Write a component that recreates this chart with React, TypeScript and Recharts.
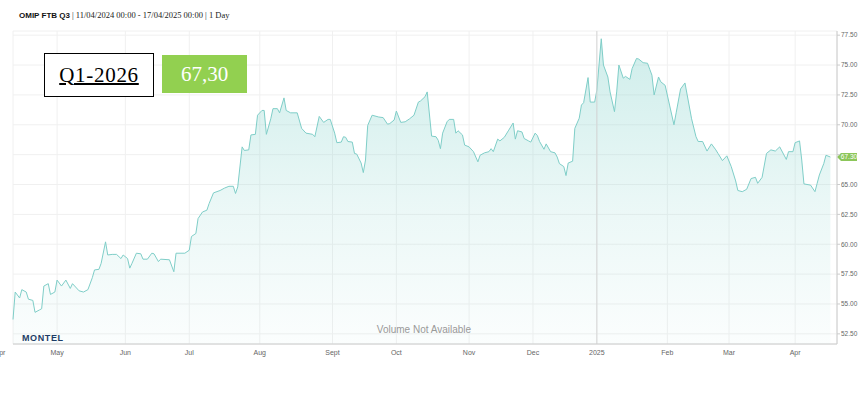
import React from 'react';
import { AreaChart, Area, XAxis, YAxis, CartesianGrid, ReferenceLine } from 'recharts';

// calendar days since 11/04/2024 (first session) and settlement prices (EUR/MWh)
const dayOffsets = [
  0, 1, 3, 4, 6, 7, 9, 10, 12, 13, 14, 16, 17, 19, 20, 22, 24, 26, 27, 30,
  32, 34, 36, 37, 39, 40, 42, 43, 45, 47, 49, 50, 52, 53, 54, 56, 58, 59, 61, 63,
  64, 66, 67, 71, 73, 74, 78, 80, 81, 83, 84, 86, 88, 89, 91, 94, 96, 98, 100, 101,
  102, 104, 105, 107, 108, 110, 111, 113, 114, 115, 117, 118, 120, 121, 123, 124, 126, 129, 131, 133,
  136, 137, 139, 141, 143, 144, 146, 147, 149, 150, 151, 152, 154, 155, 156, 158, 159, 160, 161, 163,
  166, 168, 170, 171, 173, 174, 176, 178, 180, 182, 184, 185, 187, 188, 190, 192, 193, 194, 195, 197,
  198, 200, 201, 202, 204, 205, 207, 209, 211, 212, 214, 216, 217, 218, 220, 221, 223, 225, 227, 228,
  229, 231, 232, 234, 235, 237, 238, 239, 241, 242, 244, 246, 247, 248, 250, 251, 252, 254, 255, 257,
  258, 259, 261, 262, 264, 265, 267, 268, 270, 271, 273, 274, 275, 277, 278, 280, 281, 283, 284, 286,
  288, 289, 290, 291, 293, 294, 296, 298, 300, 301, 303, 305, 306, 308, 310, 311, 313, 315, 317, 319,
  320, 322, 324, 326, 328, 329, 331, 333, 335, 337, 338, 340, 342, 344, 346, 348, 351, 352, 354, 355,
  357, 358, 359, 362, 364, 365, 366, 368, 369, 371,
];
const prices = [
  53.7, 56.0, 55.5, 56.2, 56.0, 55.4, 55.3, 54.3, 54.5, 54.6, 56.5, 56.7, 55.8, 56.0, 57.0, 56.5, 57.0, 56.3, 56.7, 56.1,
  56.0, 56.2, 57.2, 57.85, 57.9, 58.4, 60.2, 59.1, 59.15, 59.15, 58.8, 59.1, 58.8, 58.0, 58.4, 59.25, 59.2, 58.75, 58.75, 59.25,
  59.2, 58.55, 58.75, 58.7, 57.7, 59.25, 59.25, 59.5, 60.65, 60.9, 62.15, 62.7, 62.85, 63.4, 64.3, 64.5, 64.7, 64.85, 64.85, 64.25,
  64.8, 68.15, 67.85, 67.9, 69.15, 69.2, 70.8, 71.2, 71.2, 69.2, 70.5, 71.35, 71.35, 71.0, 72.25, 71.2, 71.0, 71.0, 69.7, 69.3,
  69.2, 69.0, 70.7, 70.2, 70.45, 70.45, 69.3, 68.5, 68.55, 69.0, 68.95, 68.6, 68.55, 67.6, 67.55, 66.8, 66.0, 67.05, 69.95, 70.8,
  70.65, 70.6, 70.05, 70.1, 70.4, 71.15, 70.2, 70.25, 70.5, 70.8, 71.9, 72.0, 72.35, 72.75, 69.05, 69.0, 68.7, 68.0, 69.3, 70.25,
  70.45, 70.45, 69.3, 69.5, 69.15, 68.3, 68.15, 67.75, 66.9, 67.45, 67.65, 67.75, 68.0, 67.75, 68.8, 68.65, 68.95, 69.55, 70.15, 68.8,
  69.5, 69.4, 68.85, 68.65, 68.55, 69.3, 69.1, 68.6, 67.95, 68.4, 67.75, 67.65, 67.3, 66.75, 66.5, 65.75, 66.8, 66.95, 69.7, 70.55,
  71.65, 71.85, 73.95, 71.9, 71.9, 72.9, 77.2, 75.0, 74.0, 72.75, 71.1, 72.75, 75.0, 73.9, 74.05, 73.8, 74.7, 75.55, 75.5, 75.2,
  75.15, 74.65, 74.15, 72.5, 74.0, 73.6, 73.3, 71.65, 70.0, 71.0, 73.0, 73.5, 72.5, 70.5, 69.0, 68.6, 68.6, 67.8, 68.4, 67.9,
  67.6, 67.0, 67.4, 66.5, 65.3, 64.5, 64.4, 64.6, 65.5, 65.6, 65.1, 65.6, 67.6, 67.9, 67.8, 68.15, 67.1, 67.75, 67.75, 68.5,
  68.65, 67.05, 65.05, 64.95, 64.4, 65.1, 65.8, 66.75, 67.45, 67.3,
];

const yTicks = [52.5, 55, 57.5, 60, 62.5, 65, 67.5, 70, 72.5, 75, 77.5];
const monthTickDays = [0, 20, 51, 80, 112, 145, 174, 207, 236, 265, 297, 325, 355];
const monthTickLabels = ['Apr', 'May', 'Jun', 'Jul', 'Aug', 'Sept', 'Oct', 'Nov', 'Dec', '2025', 'Feb', 'Mar', 'Apr'];
const yearStartDay = 265;

const productName = 'OMIP FTB Q3';
const periodText = '| 11/04/2024 00:00 - 17/04/2025 00:00 | 1 Day';
const contractName = 'Q1-2026';
const lastPriceText = '67,30';

const data = dayOffsets.map((day, i) => ({ day, price: prices[i] }));
const lastPrice = prices[prices.length - 1];

const sans = '"Liberation Sans", Arial, sans-serif';
const serif = '"Liberation Serif", "Times New Roman", serif';

const MonthTick = (props: any) => {
  const { x, y, payload } = props;
  const i = monthTickDays.indexOf(payload.value);
  // the first label sits before the plot start and is cut by the page edge
  const shift = i === 0 ? -13 : 0;
  return (
    <text x={x + shift} y={y} dy={8.5} textAnchor="middle" fontSize={7} fill="#666" fontFamily={sans}>
      {monthTickLabels[i]}
    </text>
  );
};

// the last-price flag covers the axis label it sits on, as in the original
const PriceTick = (props: any) => {
  const { x, y, payload } = props;
  if (Math.abs(payload.value - lastPrice) < 0.6) return <g />;
  return (
    <text x={x} y={y} dy={2.3} textAnchor="start" fontSize={6.5} fill="#666" fontFamily={sans}>
      {Number(payload.value).toFixed(2)}
    </text>
  );
};

const PriceTag = (props: any) => {
  const vb = props.viewBox || {};
  const x = vb.x + vb.width;
  const y = vb.y;
  return (
    <g>
      <path
        d={`M${x},${y} L${x + 4},${y - 4} L${x + 20},${y - 4} L${x + 20},${y + 4} L${x + 4},${y + 4} Z`}
        fill="#8cc65a"
      />
      <text x={x + 12} y={y} dy={2.3} textAnchor="middle" fontSize={6.5} fill="#fff" fontFamily={sans}>
        {lastPrice.toFixed(2)}
      </text>
    </g>
  );
};

export default function App() {
  return (
    <div style={{ position: 'absolute', left: 0, top: 0, width: 866, height: 393, background: '#fff' }}>
      <div style={{ position: 'absolute', left: 19, top: 10, fontSize: 8, lineHeight: '10px', whiteSpace: 'nowrap' }}>
        <span style={{ fontFamily: sans, fontWeight: 'bold', color: '#111' }}>{productName}</span>{' '}
        <span style={{ fontFamily: serif, fontSize: 8.5, color: '#222' }}>{periodText}</span>
      </div>

      <AreaChart width={866} height={393} data={data} margin={{ top: 31, left: 13, right: 0, bottom: 29 }}>
        <defs>
          <linearGradient id="priceFill" x1="0" y1="0" x2="0" y2="1">
            <stop offset="0%" stopColor="#8fd6d0" stopOpacity={0.72} />
            <stop offset="55%" stopColor="#8fd6d0" stopOpacity={0.3} />
            <stop offset="100%" stopColor="#8fd6d0" stopOpacity={0.06} />
          </linearGradient>
        </defs>
        <CartesianGrid stroke="#f0f0f0" />
        <XAxis
          dataKey="day"
          type="number"
          domain={[0, 374]}
          ticks={monthTickDays}
          interval={0}
          height={20}
          tickSize={0}
          tickMargin={2}
          axisLine={{ stroke: '#ccc' }}
          tickLine={false}
          tick={<MonthTick />}
        />
        <YAxis
          orientation="right"
          type="number"
          domain={[51.65, 77.85]}
          ticks={yTicks}
          width={29}
          interval={0}
          tickSize={3}
          tickMargin={1}
          axisLine={{ stroke: '#ccc' }}
          tickLine={{ stroke: '#ccc' }}
          tick={<PriceTick />}
        />
        <ReferenceLine x={yearStartDay} stroke="#d6d6d6" strokeWidth={1} />
        <Area
          type="linear"
          dataKey="price"
          stroke="#7fcec8"
          strokeWidth={1}
          fill="url(#priceFill)"
          dot={false}
          activeDot={false}
          isAnimationActive={false}
        />
        <ReferenceLine y={lastPrice} stroke="none" strokeOpacity={0} label={<PriceTag />} />
      </AreaChart>

      <div
        style={{
          position: 'absolute', left: 44, top: 53, width: 110, height: 44, boxSizing: 'border-box',
          border: '1.3px solid #000', background: '#fff', display: 'flex', alignItems: 'center',
          justifyContent: 'center', fontFamily: serif, fontSize: 21, letterSpacing: 0.7, color: '#000',
          textDecoration: 'underline', textUnderlineOffset: 1,
        }}
      >
        {contractName}
      </div>
      <div
        style={{
          position: 'absolute', left: 162, top: 55, width: 85, height: 38, background: '#92d050',
          display: 'flex', alignItems: 'center', justifyContent: 'center', fontFamily: serif,
          fontSize: 21, color: '#fff',
        }}
      >
        {lastPriceText}
      </div>

      <div
        style={{
          position: 'absolute', left: 22, top: 333, fontFamily: sans, fontWeight: 900, fontSize: 9,
          letterSpacing: 0.6, color: '#1d3c66', lineHeight: '10px',
        }}
      >
        MONTEL
      </div>
      <div
        style={{
          position: 'absolute', left: 324, top: 324, width: 200, textAlign: 'center', fontFamily: sans,
          fontSize: 10, color: '#999', lineHeight: '12px',
        }}
      >
        Volume Not Available
      </div>
    </div>
  );
}
